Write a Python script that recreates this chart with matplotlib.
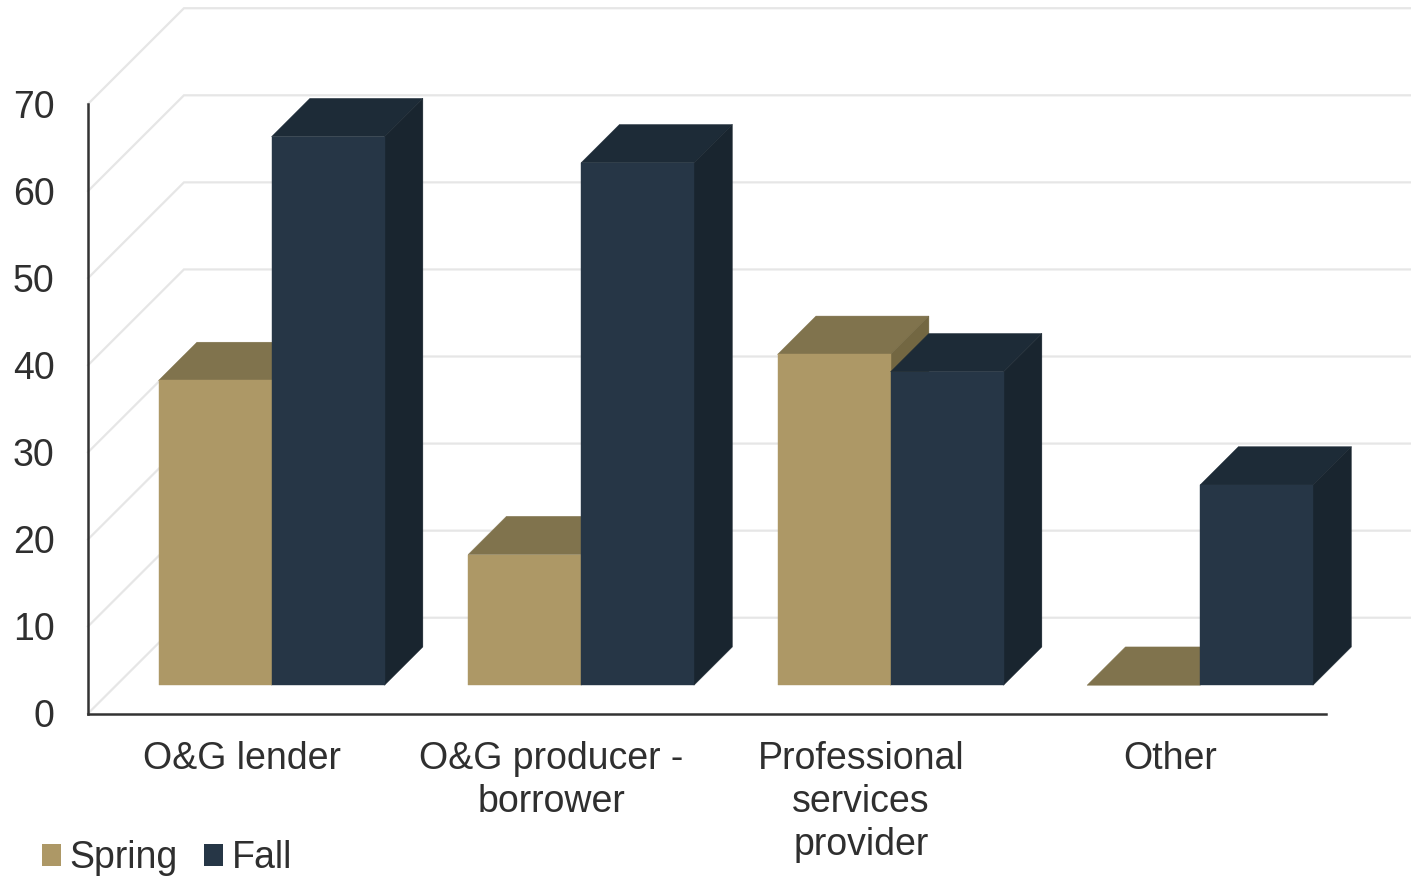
import matplotlib
matplotlib.use('Agg')
import matplotlib.pyplot as plt
from matplotlib.legend_handler import HandlerPatch
from matplotlib.patches import Patch
from matplotlib.transforms import ScaledTranslation

categories = ['O&G lender', 'O&G producer -\nborrower', 'Professional\nservices\nprovider', 'Other']
spring = [35, 15, 38, 0]
fall = [63, 60, 36, 23]
y_ticks = [0, 10, 20, 30, 40, 50, 60, 70]

# colours for front / top / side faces
spring_cols = ('#AD9866', '#80734D', '#736742')
fall_cols = ('#263646', '#1D2B37', '#19252F')
grid_col = '#E6E6E6'
axis_col = '#333333'
text_col = '#2F2F2F'

# fake 3d: how far the wall depth moves things, in data units
depth_x = 0.31
depth_y = 11.0
bar_start = 0.295  # share of the depth in front of the bars
bar_thick = 0.40   # share of the depth the bars take
bar_w = 0.365

plt.rcParams['font.family'] = ['Liberation Sans', 'DejaVu Sans']

fig = plt.figure(figsize=(14.11, 8.79), dpi=100)
ax = fig.add_axes([88 / 1411, (879 - 714.5) / 879, (1326 - 88) / 1411, (714.5 - 105) / 879])
ax.set_xlim(0, 4)
ax.set_ylim(0, 70)
ax.patch.set_alpha(0)


def draw_box(left, value, cols):
    x0 = left + 0.30 * depth_x
    y0 = bar_start * depth_y
    dx = bar_thick * depth_x
    dy = bar_thick * depth_y
    top = y0 + value
    x1 = x0 + bar_w
    ax.fill([x0, x0 + dx, x1 + dx, x1], [top, top + dy, top + dy, top], fc=cols[1], ec=cols[1], lw=0.3, zorder=3, clip_on=False)
    ax.fill([x1, x1 + dx, x1 + dx, x1], [y0, y0 + dy, top + dy, top], fc=cols[2], ec=cols[2], lw=0.3, zorder=3, clip_on=False)
    if value > 0:
        ax.bar(x0, value, bar_w, bottom=y0, align='edge', color=cols[0], edgecolor=cols[0], linewidth=0.3, zorder=3, clip_on=False)


# back wall and side wall lines
for v in y_ticks:
    ax.plot([0, depth_x, 4 + depth_x], [v, v + depth_y, v + depth_y], color=grid_col, lw=1.6,
            solid_joinstyle='miter', zorder=1, clip_on=False)

for i in range(len(categories)):
    draw_box(i + 0.5 - bar_w, spring[i], spring_cols)
    draw_box(i + 0.5, fall[i], fall_cols)

ax.set_xticks([i + 0.5 for i in range(len(categories))])
ax.set_xticklabels(categories, fontsize=27, color=text_col, linespacing=1.245)
ax.set_yticks(y_ticks)
ax.set_yticklabels([str(v) for v in y_ticks], fontsize=27, color=text_col)
ax.tick_params(axis='x', length=0, pad=19)
ax.tick_params(axis='y', length=0, pad=24)

# small nudges for the axis labels
for lab in ax.get_yticklabels():
    lab.set_transform(lab.get_transform() + ScaledTranslation(0, 1 / 100, fig.dpi_scale_trans))
for lab in ax.get_xticklabels():
    lab.set_transform(lab.get_transform() + ScaledTranslation(-1 / 100, 0, fig.dpi_scale_trans))

for s in ['top', 'right']:
    ax.spines[s].set_visible(False)
for s in ['left', 'bottom']:
    ax.spines[s].set_color(axis_col)
    ax.spines[s].set_linewidth(1.8)

handles = [Patch(color=spring_cols[0], linewidth=0, label='Spring'),
           Patch(color=fall_cols[0], linewidth=0, label='Fall')]
fig.legend(handles=handles, loc='lower left', bbox_to_anchor=(42 / 1411, 3 / 879), ncol=2, frameon=False,
           fontsize=27, labelcolor=text_col, handlelength=0.5, handleheight=0.4026, handletextpad=0.24,
           columnspacing=0.69, borderpad=0, borderaxespad=0,
           handler_map={Patch: HandlerPatch(ypad=-0.08)})

fig.savefig('out.png', dpi=100)
